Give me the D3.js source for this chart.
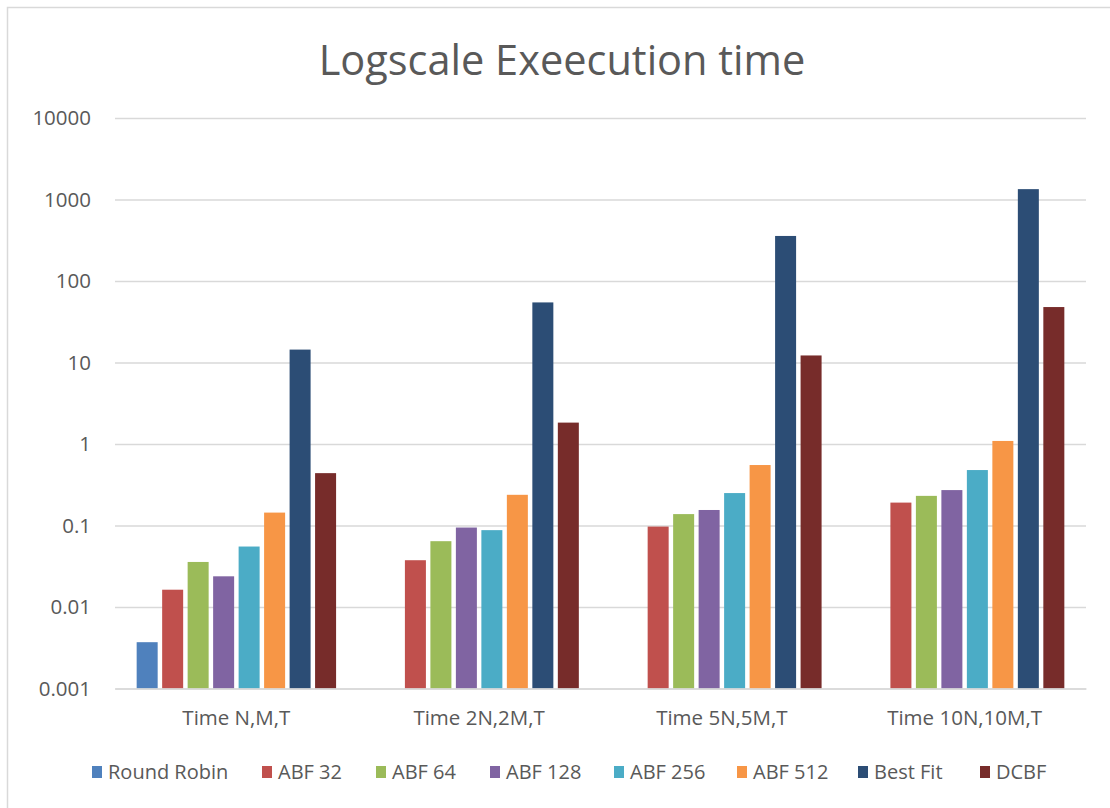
<!DOCTYPE html>
<html>
<head>
<meta charset="utf-8">
<script src="https://cdn.jsdelivr.net/npm/d3@7"></script>
<style>
  html, body { margin: 0; padding: 0; background: #fff; }
  svg { display: block; font-family: "Open Sans", sans-serif; }
</style>
</head>
<body>
<svg id="chart" width="1110" height="808"></svg>
<script>
const title = "Logscale Exeecution time";
const categories = ["Time N,M,T", "Time 2N,2M,T", "Time 5N,5M,T", "Time 10N,10M,T"];
const seriesNames = ["Round Robin", "ABF 32", "ABF 64", "ABF 128", "ABF 256", "ABF 512", "Best Fit", "DCBF"];
const seriesColors = ["#4F81BD", "#C0504D", "#9BBB59", "#8064A2", "#4BACC6", "#F79646", "#2C4D75", "#772C2A"];
const roundRobin = [0.0037, null, null, null];
const abf32 = [0.0163, 0.0375, 0.097, 0.191];
const abf64 = [0.0357, 0.0642, 0.138, 0.231];
const abf128 = [0.0238, 0.0944, 0.155, 0.272];
const abf256 = [0.0552, 0.0877, 0.250, 0.479];
const abf512 = [0.144, 0.238, 0.552, 1.09];
const bestFit = [14.4, 54.6, 357, 1340];
const dcbf = [0.439, 1.83, 12.2, 47.9];
const tickValues = [0.001, 0.01, 0.1, 1, 10, 100, 1000, 10000];
const tickLabels = ["0.001", "0.01", "0.1", "1", "10", "100", "1000", "10000"];

const seriesValues = [roundRobin, abf32, abf64, abf128, abf256, abf512, bestFit, dcbf];
const rows = [];
categories.forEach((c, ci) => {
  seriesNames.forEach((s, si) => {
    const v = seriesValues[si][ci];
    if (v != null) rows.push({ cat: c, series: s, value: v, color: seriesColors[si] });
  });
});

const svg = d3.select("#chart");
const textColor = "#595959";
const gridColor = "#D9D9D9";

// chart border
svg.append("rect").attr("x", 7.5).attr("y", 7.5).attr("width", 1120).attr("height", 820)
  .attr("fill", "#fff").attr("stroke", gridColor).attr("stroke-width", 1.5);

const plot = { left: 115, right: 1086, top: 118, bottom: 688.5 };

const x0 = d3.scaleBand().domain(categories).range([plot.left, plot.right]).padding(0);
const x1 = d3.scaleBand().domain(seriesNames).range([0, x0.bandwidth()])
  .paddingInner(0.176).paddingOuter(0.85);
const y = d3.scaleLog().domain([0.001, 10000]).range([plot.bottom, plot.top]);

// title
svg.append("text").attr("x", 562).attr("y", 75).attr("text-anchor", "middle")
  .attr("fill", textColor).attr("font-size", 41.5).text(title);

// gridlines + y axis
const yAxis = d3.axisLeft(y).tickValues(tickValues)
  .tickFormat((d, i) => tickLabels[i])
  .tickSize(-(plot.right - plot.left)).tickPadding(24);
const gy = svg.append("g").attr("transform", `translate(${plot.left},0)`).call(yAxis);
gy.select(".domain").remove();
gy.selectAll(".tick line").attr("stroke", gridColor).attr("stroke-width", 1.5);
gy.selectAll(".tick text").attr("fill", textColor).attr("font-size", 20.5)
  .attr("font-family", "Open Sans, sans-serif");

// bars
svg.append("g").selectAll("rect").data(rows).join("rect")
  .attr("x", d => x0(d.cat) + x1(d.series))
  .attr("width", x1.bandwidth())
  .attr("y", d => y(d.value))
  .attr("height", d => y(0.001) - y(d.value))
  .attr("fill", d => d.color);

// x axis
const xAxis = d3.axisBottom(x0).tickSize(0).tickPadding(22);
const gx = svg.append("g").attr("transform", `translate(0,${plot.bottom})`).call(xAxis);
gx.select(".domain").attr("stroke", gridColor).attr("stroke-width", 1.5);
gx.selectAll(".tick text").attr("fill", textColor).attr("font-size", 20.5)
  .attr("font-family", "Open Sans, sans-serif");

// legend
const legendX = [92, 262, 376, 490, 614, 737, 858, 980];
const lg = svg.append("g").selectAll("g").data(seriesNames).join("g")
  .attr("transform", (d, i) => `translate(${legendX[i]},772)`);
lg.append("rect").attr("x", 0).attr("y", -6).attr("width", 10).attr("height", 12)
  .attr("fill", (d, i) => seriesColors[i]);
lg.append("text").attr("x", 16).attr("y", 0).attr("dy", "0.35em")
  .attr("fill", textColor).attr("font-size", 20).text(d => d);
</script>
</body>
</html>
